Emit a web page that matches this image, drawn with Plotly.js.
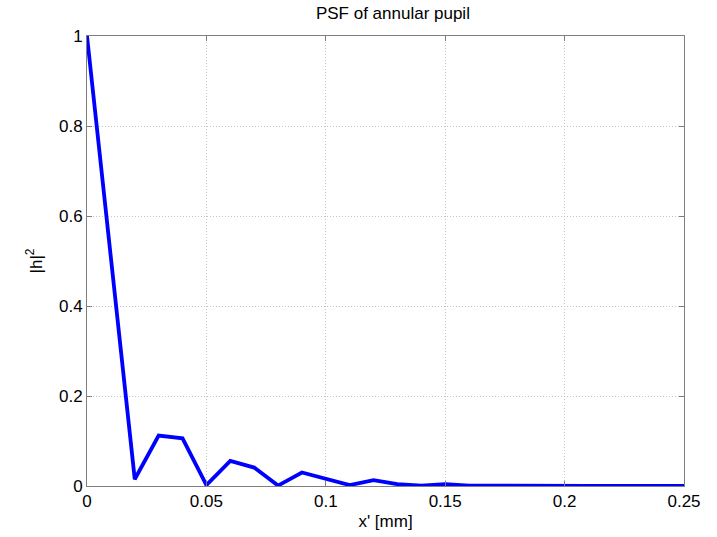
<!DOCTYPE html>
<html>
<head>
<meta charset="utf-8">
<script src="https://cdn.plot.ly/plotly-3.0.1.min.js"></script>
<style>
  html, body { margin: 0; padding: 0; background: #fff; }
  #plot { width: 717px; height: 537px; }
</style>
</head>
<body>
<div id="plot"></div>
<script>
// Radial coordinate x' in mm (sample step 0.01 mm)
const xPos = [0, 0.01, 0.02, 0.03, 0.04, 0.05, 0.06, 0.07, 0.08, 0.09,
              0.10, 0.11, 0.12, 0.13, 0.14, 0.15, 0.16, 0.17, 0.18, 0.19,
              0.20, 0.21, 0.22, 0.23, 0.24, 0.25];
// Normalised intensity |h|^2 of the annular pupil PSF
const intensity = [1.0, 0.505, 0.015, 0.112, 0.106, 0.002, 0.056, 0.041, 0.001, 0.030,
                   0.017, 0.002, 0.013, 0.004, 0.001, 0.004, 0.001, 0.0005, 0.001, 0.0003,
                   0.001, 0.0003, 0.0005, 0.0002, 0.0003, 0.0001];

const xTickVals = [0, 0.05, 0.1, 0.15, 0.2, 0.25];
const xTickText = ['0', '0.05', '0.1', '0.15', '0.2', '0.25'];
const yTickVals = [0, 0.2, 0.4, 0.6, 0.8, 1];
const yTickText = ['0', '0.2', '0.4', '0.6', '0.8', '1'];

const fontFamily = 'Liberation Sans, Arial, Helvetica, sans-serif';
const textFont = { family: fontFamily, size: 17, color: '#000' };

const trace = {
  x: xPos,
  y: intensity,
  type: 'scatter',
  mode: 'lines',
  line: { color: '#0000ff', width: 3.8 },
  hoverinfo: 'skip'
};

const axisCommon = {
  showline: true,
  linecolor: '#7f7f7f',
  linewidth: 1,
  mirror: 'ticks',
  ticks: 'inside',
  ticklen: 5,
  tickcolor: '#7f7f7f',
  showgrid: true,
  gridcolor: '#c4c4c4',
  griddash: '1px,2px',
  gridwidth: 1,
  zeroline: false,
  tickfont: textFont,
  tickmode: 'array'
};

const layout = {
  width: 717,
  height: 537,
  margin: { l: 87, r: 33, t: 36, b: 51 },
  paper_bgcolor: '#fff',
  plot_bgcolor: '#fff',
  showlegend: false,
  title: {
    text: 'PSF of annular pupil',
    font: textFont,
    x: 0.548, xanchor: 'center',
    y: 0.976, yanchor: 'middle'
  },
  xaxis: Object.assign({}, axisCommon, {
    range: [0, 0.25],
    tickvals: xTickVals,
    ticktext: xTickText,
    title: { text: "x' [mm]", font: textFont, standoff: 4 }
  }),
  yaxis: Object.assign({}, axisCommon, {
    range: [0, 1],
    tickvals: yTickVals,
    ticktext: yTickText,
    title: { text: '|h|<sup>2</sup>', font: textFont, standoff: 12 }
  })
};

Plotly.newPlot('plot', [trace], layout, { staticPlot: true, displayModeBar: false });
</script>
</body>
</html>
